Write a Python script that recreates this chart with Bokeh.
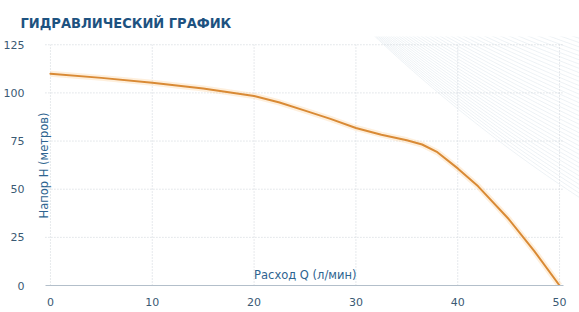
import numpy as np
from bokeh.plotting import figure
from bokeh.models import Range1d, FixedTicker, Label, ColumnDataSource
from bokeh.embed import file_html
from bokeh.resources import INLINE

# ---- data ----
flow = [0, 5, 10, 15, 20, 22.5, 25, 27.5, 30, 32.5, 35, 36.5, 38, 40, 42, 45, 47.5, 50]
head = [110, 107.8, 105.3, 102.3, 98.4, 95, 90.8, 86.5, 81.8, 78.3, 75.4, 73.2, 69.2, 60.8, 51.5, 34.5, 18, 0]
x_ticks = [0, 10, 20, 30, 40, 50]
y_ticks = [0, 25, 50, 75, 100, 125]
title_text = "ГИДРАВЛИЧЕСКИЙ ГРАФИК"
x_label = "Расход Q (л/мин)"
y_label = "Напор Н (метров)"

W, H = 579, 312
LEFT, BOTTOM, TOP = 30, 27, 36
fw, fh = W - LEFT, H - BOTTOM - TOP
PX_X = 10.22   # pixels per unit x
PX_Y = 1.926   # pixels per unit y
x_start = -(48 - LEFT) / PX_X
x_end = x_start + fw / PX_X
y_start = 0.0
y_end = fh / PX_Y

def dx(px):  # canvas pixel -> data x
    return x_start + (px - LEFT) / PX_X

def dy(py):  # canvas pixel (from top) -> data y
    return (H - BOTTOM - py) / PX_Y

p = figure(width=W, height=H, output_backend="svg", toolbar_location=None,
           x_range=Range1d(x_start, x_end), y_range=Range1d(y_start, y_end),
           min_border_left=LEFT, min_border_bottom=BOTTOM,
           min_border_top=TOP, min_border_right=0,
           background_fill_color="white", border_fill_color="white")
p.outline_line_color = None
p.xgrid.visible = False
p.ygrid.visible = False

p.title.text = title_text
p.title.align = "left"
p.title.offset = -12
p.title.standoff = 12
p.title.text_font = "DejaVu Sans Condensed"
p.title.text_font_style = "bold"
p.title.text_font_size = "14.5px"
p.title.text_color = "#1d5280"

# decorative fan of thin lines (top-right)
A = B = 562.0
def f(u):
    return A * (1 - np.exp(-u / B))
xs_dec, ys_dec = [], []
px = np.linspace(300, 579, 120)
for j in range(0, 46):
    s = j * 10.0
    h = f(242 + s) - 197 + 4.3 * j
    py = f(px - 337 + s) - h
    m = py >= -5
    xs_dec.append([dx(v) for v in px[m]])
    ys_dec.append([dy(v) for v in py[m]])
p.multi_line(xs_dec, ys_dec, line_color="#dfe6ed", line_width=0.7, line_alpha=0.8)

# grid (dotted)
gx_lo, gx_hi = dx(43), dx(563)
p.segment(x0=x_ticks, y0=[0] * len(x_ticks), x1=x_ticks, y1=[max(y_ticks)] * len(x_ticks),
          line_color="#cdd3d9", line_width=1, line_dash="1 2")
p.segment(x0=[gx_lo] * (len(y_ticks) - 1), y0=y_ticks[1:], x1=[gx_hi] * (len(y_ticks) - 1), y1=y_ticks[1:],
          line_color="#cdd3d9", line_width=1, line_dash="1 2")

# curve with glow
src = ColumnDataSource(dict(x=flow, y=head))
p.line("x", "y", source=src, line_color="#fcd29a", line_width=6, line_alpha=0.35, line_join="round")
p.line("x", "y", source=src, line_color="#d98a35", line_width=2, line_join="round", line_cap="round")

# axes
p.xaxis.ticker = FixedTicker(ticks=x_ticks)
p.xaxis.bounds = (gx_lo, gx_hi)
p.xaxis.axis_line_color = "#b3bfca"
p.xaxis.major_tick_line_color = None
p.xaxis.minor_tick_line_color = None
p.xaxis.major_label_standoff = 6
p.xaxis.major_label_text_font = "DejaVu Sans"
p.xaxis.major_label_text_font_size = "11px"
p.xaxis.major_label_text_color = "#3a5a74"

p.yaxis.ticker = FixedTicker(ticks=y_ticks)
p.yaxis.axis_line_color = None
p.yaxis.major_tick_line_color = None
p.yaxis.minor_tick_line_color = None
p.yaxis.major_label_standoff = 2
p.yaxis.major_label_text_font = "DejaVu Sans"
p.yaxis.major_label_text_font_size = "11px"
p.yaxis.major_label_text_color = "#3a5a74"

# texts
p.add_layout(Label(x=20, y=dy(274), text=x_label, text_font="DejaVu Sans",
                   text_font_size="11.5px", text_color="#2e6490",
                   text_baseline="middle", text_align="left"))
p.add_layout(Label(x=dx(42), y=dy(165), text=y_label, text_font="DejaVu Sans",
                   text_font_size="11.5px", text_color="#2e6490", angle=np.pi / 2,
                   text_baseline="middle", text_align="center"))

open("out.html", "w").write(file_html(p, INLINE))
